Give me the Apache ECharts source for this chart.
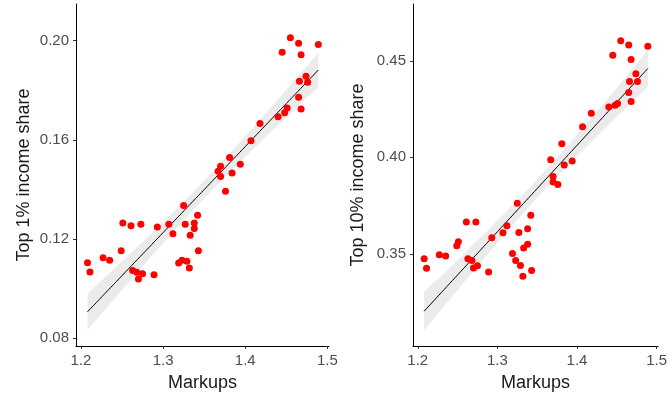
<!DOCTYPE html>
<html>
<head>
<meta charset="utf-8">
<script src="https://cdn.jsdelivr.net/npm/echarts@6/dist/echarts.min.js"></script>
<style>
  html, body { margin: 0; padding: 0; background: #fff; }
  #chart { width: 670px; height: 397px; }
</style>
</head>
<body>
<div id="chart"></div>
<script>
// markups (x) shared by both panels
var markups = [1.208, 1.211, 1.227, 1.235, 1.249, 1.251, 1.261, 1.263, 1.268, 1.270,
  1.273, 1.275, 1.289, 1.293, 1.307, 1.312, 1.319, 1.323,
  1.325, 1.327, 1.329, 1.332, 1.333, 1.338, 1.338, 1.342, 1.343,
  1.367, 1.370, 1.370, 1.376, 1.381, 1.384, 1.394,
  1.407, 1.418, 1.440, 1.448, 1.451,
  1.465, 1.468, 1.466, 1.474, 1.476,
  1.445, 1.455, 1.465, 1.468, 1.489];
var top1 = [0.1105, 0.1067, 0.1125, 0.1115, 0.1153, 0.1265, 0.1254, 0.1073, 0.1066, 0.1039,
  0.1260, 0.1060, 0.1056, 0.1249, 0.1260, 0.1222, 0.1104, 0.1115,
  0.1336, 0.1260, 0.1111, 0.1084, 0.1216, 0.1265, 0.1243, 0.1296, 0.1153,
  0.1474, 0.1494, 0.1452, 0.1393, 0.1529, 0.1467, 0.1502,
  0.1597, 0.1666, 0.1693, 0.1709, 0.1729,
  0.1772, 0.1725, 0.1837, 0.1857, 0.1832,
  0.1953, 0.2012, 0.1990, 0.1943, 0.1985];
var top10 = [0.3474, 0.3425, 0.3495, 0.3488, 0.3542, 0.3563, 0.3665, 0.3474, 0.3465, 0.3427,
  0.3665, 0.3438, 0.3406, 0.3583, 0.3609, 0.3646, 0.3502, 0.3465,
  0.3762, 0.3611, 0.3439, 0.3384, 0.3530, 0.3630, 0.3550, 0.3700, 0.3413,
  0.3988, 0.3901, 0.3872, 0.3859, 0.4071, 0.3960, 0.3981,
  0.4159, 0.4228, 0.4261, 0.4270, 0.4279,
  0.4336, 0.4289, 0.4393, 0.4433, 0.4393,
  0.4529, 0.4604, 0.4583, 0.4507, 0.4576];

var xTicks = [1.2, 1.3, 1.4, 1.5];
var yTicks1 = [0.08, 0.12, 0.16, 0.20];
var yTicks10 = [0.35, 0.40, 0.45];

// linear fit with 95% confidence band (like geom_smooth(method = "lm"))
function lmFit(xs, ys) {
  var n = xs.length, mx = 0, my = 0;
  for (var i = 0; i < n; i++) { mx += xs[i]; my += ys[i]; }
  mx /= n; my /= n;
  var sxx = 0, sxy = 0;
  for (i = 0; i < n; i++) {
    sxx += (xs[i] - mx) * (xs[i] - mx);
    sxy += (xs[i] - mx) * (ys[i] - my);
  }
  var b = sxy / sxx, a = my - b * mx, sse = 0;
  for (i = 0; i < n; i++) { var r = ys[i] - a - b * xs[i]; sse += r * r; }
  var s = Math.sqrt(sse / (n - 2)), t = 2.0117;
  var lo = Math.min.apply(null, xs), hi = Math.max.apply(null, xs);
  var fit = [], low = [], high = [];
  for (var k = 0; k < 80; k++) {
    var x = lo + (hi - lo) * k / 79;
    var y = a + b * x;
    var se = s * Math.sqrt(1 / n + (x - mx) * (x - mx) / sxx);
    fit.push([x, y]);
    low.push([x, y - t * se]);
    high.push([x, y + t * se]);
  }
  return { fit: fit, low: low, high: high };
}

function pairs(xs, ys) {
  return xs.map(function (x, i) { return [x, ys[i]]; });
}

var f1 = lmFit(markups, top1);
var f10 = lmFit(markups, top10);

var font = "'Liberation Sans', Arial, sans-serif";

function xAxis(idx) {
  return {
    type: 'value', gridIndex: idx, min: 1.194, max: 1.502,
    name: 'Markups', nameLocation: 'middle', nameGap: 28,
    nameTextStyle: { fontSize: 18, color: '#1a1a1a', fontFamily: font },
    axisLine: { lineStyle: { color: '#000', width: 1 } },
    axisTick: { length: 3, lineStyle: { color: '#333' }, customValues: xTicks },
    axisLabel: { customValues: xTicks, margin: 7, fontSize: 15, color: '#4d4d4d', fontFamily: font,
      formatter: function (v) { return v.toFixed(1); } },
    splitLine: { show: false }
  };
}

function yAxis(idx, name, min, max, ticks, gap) {
  return {
    type: 'value', gridIndex: idx, min: min, max: max,
    name: name, nameLocation: 'middle', nameGap: gap,
    nameTextStyle: { fontSize: 18, color: '#1a1a1a', fontFamily: font },
    axisLine: { show: true, lineStyle: { color: '#000', width: 1 } },
    axisTick: { show: true, length: 3, lineStyle: { color: '#333' }, customValues: ticks },
    axisLabel: { customValues: ticks, margin: 7, fontSize: 15, color: '#4d4d4d', fontFamily: font,
      formatter: function (v) { return v.toFixed(2); } },
    splitLine: { show: false }
  };
}

function panel(idx, f, pts) {
  return [
    { type: 'custom', xAxisIndex: idx, yAxisIndex: idx, data: [0], silent: true, z: 1,
      renderItem: function (params, api) {
        var poly = f.low.map(function (p) { return api.coord(p); });
        for (var k = f.high.length - 1; k >= 0; k--) poly.push(api.coord(f.high[k]));
        return { type: 'polygon', shape: { points: poly }, style: { fill: '#ebebeb' } };
      } },
    { type: 'line', xAxisIndex: idx, yAxisIndex: idx, data: f.fit, showSymbol: false,
      lineStyle: { color: '#000', width: 1 }, silent: true, z: 2 },
    { type: 'scatter', xAxisIndex: idx, yAxisIndex: idx, data: pts, symbolSize: 7,
      itemStyle: { color: '#ff0000', opacity: 1 }, z: 3 }
  ];
}

var chart = echarts.init(document.getElementById('chart'));
var option = {
  animation: false,
  backgroundColor: '#fff',
  grid: [
    { left: 76, top: 4, width: 253, height: 342 },
    { left: 413, top: 4, width: 252, height: 342 }
  ],
  xAxis: [xAxis(0), xAxis(1)],
  yAxis: [
    yAxis(0, 'Top 1% income share', 0.0769, 0.2148, yTicks1, 43),
    yAxis(1, 'Top 10% income share', 0.3022, 0.4795, yTicks10, 46)
  ],
  series: panel(0, f1, pairs(markups, top1)).concat(panel(1, f10, pairs(markups, top10)))
};
chart.setOption(option);
</script>
</body>
</html>
